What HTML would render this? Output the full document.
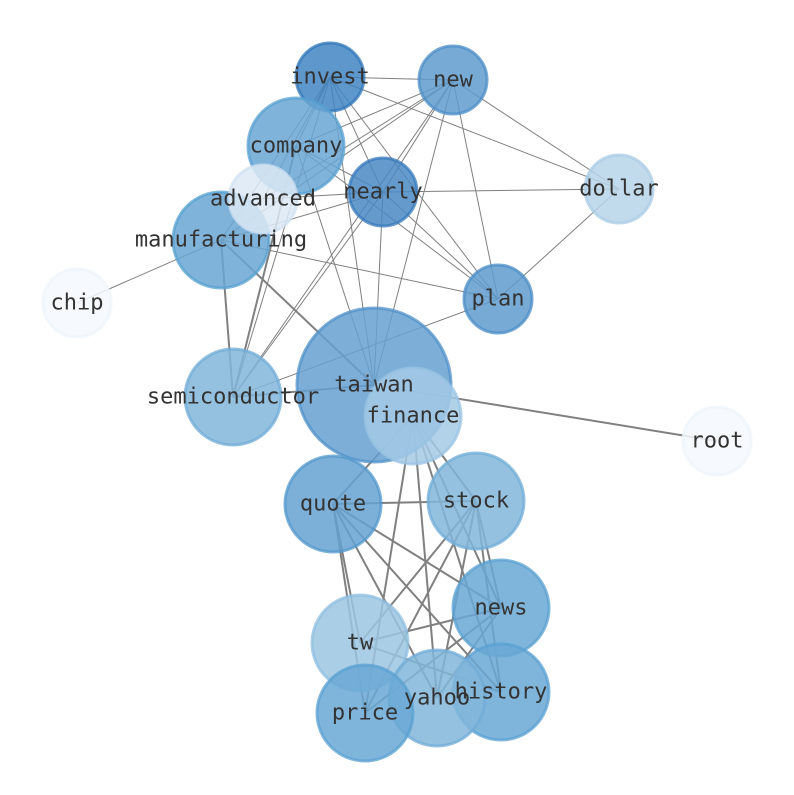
<!DOCTYPE html>
<html><head><meta charset="utf-8"><style>
html,body{margin:0;padding:0;background:#fff;}
svg text{font-family:"DejaVu Sans Mono","Liberation Mono",monospace;font-size:22px;fill:#333;text-anchor:middle;dominant-baseline:central;}
</style></head><body>
<svg width="794" height="790" viewBox="0 0 794 790" xmlns="http://www.w3.org/2000/svg">
<g stroke="#808080" stroke-width="1" fill="none">
<line x1="330" y1="77" x2="453" y2="80"/>
<line x1="330" y1="77" x2="296" y2="146"/>
<line x1="330" y1="77" x2="263" y2="199"/>
<line x1="330" y1="77" x2="221" y2="240"/>
<line x1="330" y1="77" x2="233" y2="397"/>
<line x1="330" y1="77" x2="374" y2="385"/>
<line x1="330" y1="77" x2="498" y2="299"/>
<line x1="330" y1="77" x2="619" y2="189"/>
<line x1="330" y1="77" x2="383" y2="192"/>
<line x1="453" y1="80" x2="296" y2="146"/>
<line x1="453" y1="80" x2="263" y2="199"/>
<line x1="453" y1="80" x2="383" y2="192"/>
<line x1="453" y1="80" x2="221" y2="240"/>
<line x1="453" y1="80" x2="374" y2="385"/>
<line x1="453" y1="80" x2="498" y2="299"/>
<line x1="453" y1="80" x2="619" y2="189"/>
<line x1="453" y1="80" x2="233" y2="397"/>
<line x1="296" y1="146" x2="498" y2="299"/>
<line x1="296" y1="146" x2="383" y2="192"/>
<line x1="296" y1="146" x2="374" y2="385"/>
<line x1="296" y1="146" x2="233" y2="397"/>
<line x1="383" y1="192" x2="619" y2="189"/>
<line x1="383" y1="192" x2="221" y2="240"/>
<line x1="383" y1="192" x2="233" y2="397"/>
<line x1="383" y1="192" x2="374" y2="385"/>
<line x1="383" y1="192" x2="498" y2="299"/>
<line x1="383" y1="192" x2="263" y2="199"/>
<line x1="221" y1="240" x2="77" y2="303"/>
<line x1="221" y1="240" x2="498" y2="299"/>
<line x1="498" y1="299" x2="619" y2="189"/>
<line x1="498" y1="299" x2="233" y2="397"/>
</g>
<g stroke="#808080" stroke-width="2" fill="none">
<line x1="221" y1="240" x2="233" y2="397"/>
<line x1="221" y1="240" x2="374" y2="385"/>
<line x1="296" y1="146" x2="233" y2="397"/>
<line x1="374" y1="385" x2="233" y2="397"/>
<line x1="374" y1="385" x2="717" y2="441"/>
<line x1="413" y1="416" x2="333" y2="504"/>
<line x1="413" y1="416" x2="437" y2="698"/>
<line x1="413" y1="416" x2="365" y2="713"/>
<line x1="413" y1="416" x2="476" y2="501"/>
<line x1="413" y1="416" x2="501" y2="608"/>
<line x1="413" y1="416" x2="501" y2="692"/>
<line x1="333" y1="504" x2="476" y2="501"/>
<line x1="333" y1="504" x2="501" y2="608"/>
<line x1="333" y1="504" x2="360" y2="643"/>
<line x1="333" y1="504" x2="365" y2="713"/>
<line x1="333" y1="504" x2="437" y2="698"/>
<line x1="333" y1="504" x2="501" y2="692"/>
<line x1="476" y1="501" x2="360" y2="643"/>
<line x1="476" y1="501" x2="365" y2="713"/>
<line x1="476" y1="501" x2="501" y2="608"/>
<line x1="476" y1="501" x2="501" y2="692"/>
<line x1="476" y1="501" x2="437" y2="698"/>
<line x1="501" y1="608" x2="360" y2="643"/>
<line x1="501" y1="608" x2="365" y2="713"/>
<line x1="501" y1="608" x2="437" y2="698"/>
<line x1="360" y1="643" x2="501" y2="692"/>
</g>
<g stroke-width="3" fill-opacity="0.85" stroke-opacity="0.75">
<circle cx="77" cy="303" r="34" fill="#f4f8fd" stroke="#eef4fb"/>
<circle cx="717" cy="441" r="34" fill="#f4f8fd" stroke="#eef4fb"/>
<circle cx="619" cy="189" r="34" fill="#b6d4e9" stroke="#a9cce5"/>
<circle cx="453" cy="80" r="34" fill="#5f9ccf" stroke="#4a8cc6"/>
<circle cx="330" cy="77" r="34" fill="#4185c3" stroke="#2e74b8"/>
<circle cx="296" cy="146" r="48" fill="#6aa6d3" stroke="#56a0d0"/>
<circle cx="221" cy="240" r="48" fill="#6aa6d3" stroke="#56a0d0"/>
<circle cx="263" cy="199" r="34" fill="#dce9f5" stroke="#d0e2f2"/>
<circle cx="383" cy="192" r="34" fill="#4a88c4" stroke="#3478b9"/>
<circle cx="498" cy="299" r="34" fill="#5f9ccf" stroke="#4a8cc6"/>
<circle cx="233" cy="397" r="48" fill="#82b6db" stroke="#70acd7"/>
<circle cx="374" cy="385" r="77" fill="#65a0d0" stroke="#4f90c8"/>
<circle cx="413" cy="416" r="48" fill="#a5cae6" stroke="#99c3e3"/>
<circle cx="333" cy="504" r="48" fill="#65a2d1" stroke="#5398cc"/>
<circle cx="476" cy="501" r="48" fill="#82b6db" stroke="#70acd7"/>
<circle cx="501" cy="608" r="48" fill="#6aa8d5" stroke="#5aa0d1"/>
<circle cx="360" cy="643" r="48" fill="#9cc6e3" stroke="#8fbfe0"/>
<circle cx="501" cy="692" r="48" fill="#6aa8d5" stroke="#5aa0d1"/>
<circle cx="437" cy="698" r="48" fill="#82b6db" stroke="#70acd7"/>
<circle cx="365" cy="713" r="48" fill="#6aa8d5" stroke="#5aa0d1"/>
</g>
<text x="330" y="77">invest</text>
<text x="453" y="80">new</text>
<text x="296" y="146">company</text>
<text x="263" y="199">advanced</text>
<text x="383" y="192">nearly</text>
<text x="619" y="189">dollar</text>
<text x="221" y="240">manufacturing</text>
<text x="77" y="303">chip</text>
<text x="498" y="299">plan</text>
<text x="233" y="397">semiconductor</text>
<text x="374" y="385">taiwan</text>
<text x="413" y="416">finance</text>
<text x="717" y="441">root</text>
<text x="333" y="504">quote</text>
<text x="476" y="501">stock</text>
<text x="501" y="608">news</text>
<text x="360" y="643">tw</text>
<text x="437" y="698">yahoo</text>
<text x="501" y="692">history</text>
<text x="365" y="713">price</text>
</svg>
</body></html>
